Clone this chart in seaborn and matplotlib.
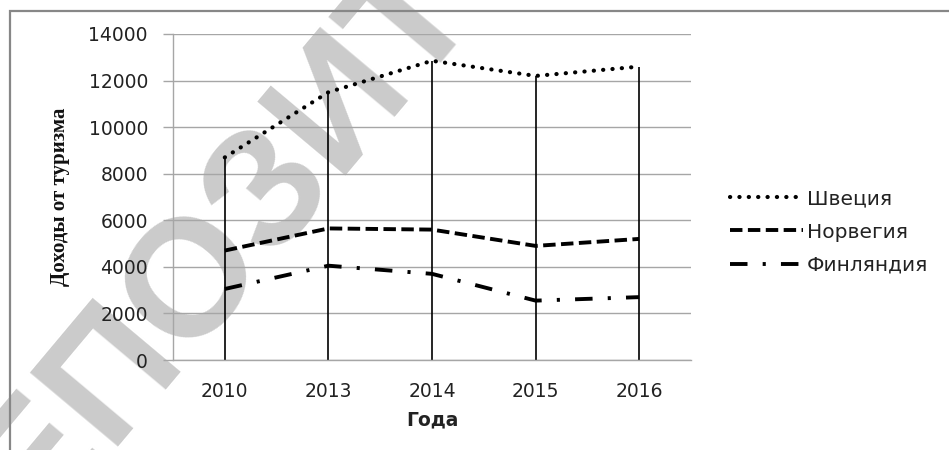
import numpy as np
import pandas as pd
import matplotlib
matplotlib.use("Agg")
import matplotlib.pyplot as plt
import seaborn as sns
from matplotlib.patches import Rectangle

# данные
years = ["2010", "2013", "2014", "2015", "2016"]
sweden = [8700, 11500, 12850, 12200, 12600]
norway = [4700, 5650, 5600, 4900, 5200]
finland = [3050, 4050, 3700, 2550, 2700]
series_names = ["Швеция", "Норвегия", "Финляндия"]
y_ticks = [0, 2000, 4000, 6000, 8000, 10000, 12000, 14000]

sns.set_theme(style="white")
plt.rcParams["font.family"] = ["DejaVu Sans"]

pos = np.arange(len(years))
df = pd.DataFrame({"pos": np.tile(pos, 3),
                   "value": sweden + norway + finland,
                   "country": np.repeat(series_names, len(years))})

fig = plt.figure(figsize=(9.49, 4.5), dpi=100)
ax = fig.add_axes([173 / 949, 1 - 360 / 450, 518 / 949, 326 / 450])
ax.set_facecolor("none")

# водяной знак
fig.text(342 / 949, 1 - 100 / 450, "РЕПОЗИТОРИЙ", rotation=50,
         rotation_mode="anchor", ha="center", va="center",
         fontsize=120, fontweight="bold", family="Liberation Sans",
         color="#cbcbcb", zorder=-5)

# рамка
fig.patches.append(Rectangle((10 / 949, -0.2), 1.2, 1.2 - 11 / 450,
                             transform=fig.transFigure, fill=False,
                             edgecolor="#878787", linewidth=1.6, zorder=10))

styles = {
    "Швеция": dict(lw=3.0, dashes=(0.05, 2.2), cap="round"),
    "Норвегия": dict(lw=2.8, dashes=(3.2, 1.4), cap="butt"),
    "Финляндия": dict(lw=2.8, dashes=(4.5, 3.9, 0.8, 3.9), cap="butt"),
}

# вертикальные линии проекции
ax.vlines(pos, 0, sweden, color="black", lw=1.2, zorder=2)

for name in series_names:
    st = styles[name]
    sub = df[df["country"] == name]
    sns.lineplot(data=sub, x="pos", y="value", ax=ax, color="black",
                 lw=st["lw"], label=name, zorder=3)
    line = ax.lines[-1]
    line.set_dashes(st["dashes"])
    line.set_dash_capstyle(st["cap"])
    line.set_solid_capstyle(st["cap"])

ax.set_xlim(-0.5, len(years) - 0.5)
ax.set_ylim(0, 14000)
ax.set_yticks(y_ticks)
ax.set_yticklabels([str(t) for t in y_ticks])
ax.set_xticks(pos)
ax.set_xticklabels(years)
ax.grid(axis="y", color="#a6a6a6", lw=1.0, zorder=0)
ax.set_axisbelow(True)
for s in ["top", "right"]:
    ax.spines[s].set_visible(False)
for s in ["left", "bottom"]:
    ax.spines[s].set_color("#a6a6a6")
    ax.spines[s].set_linewidth(1.0)
ax.tick_params(axis="y", length=7, width=1.0, color="#a6a6a6", pad=11,
               labelsize=13.5, labelcolor="#222222", left=True)
ax.tick_params(axis="x", length=0, pad=16, labelsize=13.5, labelcolor="#222222")

ax.set_xlabel("Года", fontsize=13.5, fontweight="bold", color="#222222")
ax.xaxis.set_label_coords(0.5, -0.184)
ax.xaxis.label.set_va("center")
ax.set_ylabel("Доходы от туризма", fontsize=15, fontweight="bold",
              family="Liberation Serif", color="#111111")
ax.yaxis.set_label_coords(-0.218, 0.5)
ax.yaxis.label.set_va("center")

leg = ax.legend(loc="center left", bbox_to_anchor=(712 / 949, 1 - 232 / 450),
                bbox_transform=fig.transFigure, frameon=False, fontsize=14.5,
                handlelength=3.6, handletextpad=0.2, labelspacing=0.7)
for t in leg.get_texts():
    t.set_color("#222222")

fig.savefig("out.png", dpi=100)
